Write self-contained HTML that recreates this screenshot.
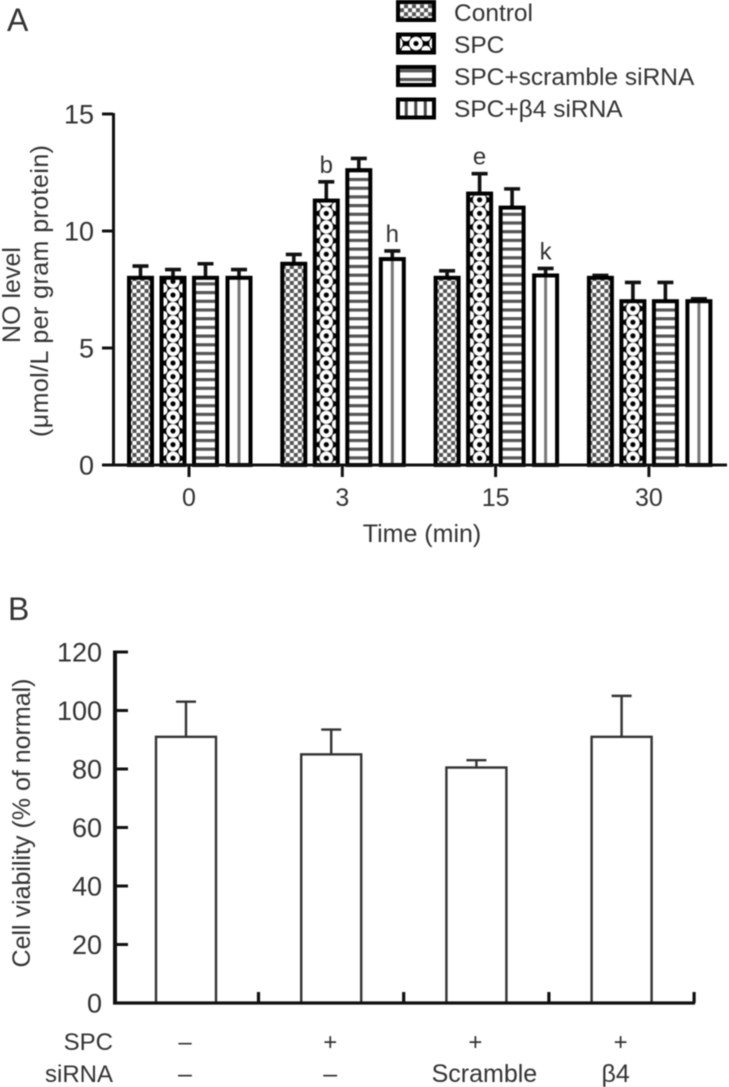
<!DOCTYPE html>
<html lang="en">
<head>
<meta charset="utf-8">
<title>NO level and cell viability charts</title>
<style>
html,body{margin:0;padding:0;background:#fff;}
#figure{display:block;width:729px;height:1087px;filter:blur(0.6px);}
text{font-family:"Liberation Sans",sans-serif;fill:#333;}
</style>
</head>
<body>
<svg id="figure" xmlns="http://www.w3.org/2000/svg" width="729" height="1087" viewBox="0 0 729 1087">
  <defs id="pattern-defs">
    <pattern id="pat-control" patternUnits="userSpaceOnUse" width="8" height="8">
      <rect width="8" height="8" fill="#fff"/>
      <rect x="0" y="0" width="4" height="4" fill="#555"/>
      <rect x="4" y="4" width="4" height="4" fill="#555"/>
    </pattern>
    <pattern id="pat-spc" patternUnits="userSpaceOnUse" width="20" height="13.6">
      <rect width="20" height="13.6" fill="#000"/>
      <circle cx="10" cy="6.8" r="6.7" fill="#fff"/>
      <circle cx="10" cy="6.8" r="2.6" fill="#000"/>
      <circle cx="0" cy="0" r="4.6" fill="#fff"/>
      <circle cx="20" cy="0" r="4.6" fill="#fff"/>
      <circle cx="0" cy="13.6" r="4.6" fill="#fff"/>
      <circle cx="20" cy="13.6" r="4.6" fill="#fff"/>
    </pattern>
    <pattern id="pat-scramble" patternUnits="userSpaceOnUse" width="10" height="8.7">
      <rect width="10" height="8.7" fill="#fff"/>
      <rect y="0" width="10" height="3.2" fill="#555"/>
    </pattern>
    <pattern id="pat-beta4" patternUnits="userSpaceOnUse" width="23" height="10">
      <rect width="23" height="10" fill="#fff"/>
      <rect x="10" width="3" height="10" fill="#777"/>
    </pattern>
    <pattern id="pat-beta4-legend" patternUnits="userSpaceOnUse" width="9.5" height="10">
      <rect width="9.5" height="10" fill="#fff"/>
      <rect x="3" width="3" height="10" fill="#444"/>
    </pattern>
  </defs>
  <g id="chart-a"></g>
  <g id="chart-b"></g>
</svg>
<script>
// Panel A data
var timeLabels = ['0', '3', '15', '30'];
var seriesNames = ['Control', 'SPC', 'SPC+scramble siRNA', 'SPC+\u03b24 siRNA'];
var seriesControl = [8.0, 8.6, 8.0, 8.0];
var seriesSpc = [8.0, 11.3, 11.6, 7.0];
var seriesScramble = [8.0, 12.6, 11.0, 7.0];
var seriesBeta4 = [8.0, 8.8, 8.1, 7.0];
var errorControl = [0.5, 0.4, 0.3, 0.1];
var errorSpc = [0.35, 0.8, 0.85, 0.8];
var errorScramble = [0.6, 0.5, 0.8, 0.8];
var errorBeta4 = [0.35, 0.35, 0.3, 0.1];
var significanceLabels = [['', '', '', ''], ['', 'b', '', 'h'], ['', 'e', '', 'k'], ['', '', '', '']];
var ticksA = [0, 5, 10, 15];

// Panel B data
var viabilityValues = [91, 85, 80.5, 91];
var viabilityErrors = [12, 8.5, 2.5, 14];
var spcRow = ['\u2013', '+', '+', '+'];
var sirnaRow = ['\u2013', '\u2013', 'Scramble', '\u03b24'];
var ticksB = [0, 20, 40, 60, 80, 100, 120];

var SVG_NS = 'http://www.w3.org/2000/svg';
function make(parent, tag, attrs, content) {
  var el = document.createElementNS(SVG_NS, tag);
  for (var k in attrs) { el.setAttribute(k, attrs[k]); }
  if (content !== undefined) { el.textContent = content; }
  parent.appendChild(el);
  return el;
}
function named(el, name, interactable) {
  
  
  return el;
}
var patternCount = 0;
function centeredPattern(baseId, cx, originY) {
  var base = document.getElementById(baseId);
  var copy = base.cloneNode(true);
  patternCount += 1;
  var id = baseId + '-' + patternCount;
  copy.setAttribute('id', id);
  copy.setAttribute('x', cx - parseFloat(base.getAttribute('width')) / 2);
  copy.setAttribute('y', originY);
  document.getElementById('pattern-defs').appendChild(copy);
  return 'url(#' + id + ')';
}

// ---------- Panel A ----------
var a = document.getElementById('chart-a');
var yA = function (v) { return 465 - v * 23.4; };
var xGroupA = function (i) { return 189 + i * 153.3; };
var xBarOffsets = function (s) { return -48.5 + s * 32.5 + (s === 3 ? 1 : 0); };
var patternIds = ['pat-control', 'pat-spc', 'pat-scramble', 'pat-beta4'];
var legendPatternIds = ['pat-control', 'pat-spc', 'pat-scramble', 'pat-beta4-legend'];
var valuesA = [seriesControl, seriesSpc, seriesScramble, seriesBeta4];
var errorsA = [errorControl, errorSpc, errorScramble, errorBeta4];
var barSlug = ['control', 'spc', 'scramble', 'beta4'];

named(make(a, 'text', {x: 7, y: 31, 'font-size': 32}, 'A'), 'panel-a-label', 'false');

valuesA.forEach(function (series, s) {
  series.forEach(function (v, g) {
    var cx = xGroupA(g) + xBarOffsets(s);
    var top = yA(v + errorsA[s][g]);
    var eb = make(a, 'path', {
      d: 'M' + cx + ' ' + yA(v) + 'V' + top + 'M' + (cx - 8) + ' ' + top + 'H' + (cx + 8),
      stroke: '#111', 'stroke-width': 3.6, fill: 'none'
    });
    named(eb, 'error-bar-' + barSlug[s] + '-' + timeLabels[g], 'false');
    var bar = make(a, 'rect', {
      x: cx - 11.5, y: yA(v), width: 23, height: 465 - yA(v),
      fill: centeredPattern(patternIds[s], cx, 465), stroke: '#000', 'stroke-width': 4
    });
    named(bar, 'bar-' + barSlug[s] + '-' + timeLabels[g], 'true');
    var sig = significanceLabels[g][s];
    if (sig) {
      var lab = make(a, 'text', {x: cx, y: top - 9, 'text-anchor': 'middle', 'font-size': 24}, sig);
      named(lab, 'significance-' + sig, 'false');
    }
  });
});

named(make(a, 'path', {d: 'M113.5 113V465', stroke: '#111', 'stroke-width': 3, fill: 'none'}), 'y-axis-a', 'false');
named(make(a, 'path', {d: 'M102 465H727', stroke: '#111', 'stroke-width': 3, fill: 'none'}), 'x-axis-a', 'false');

ticksA.forEach(function (t) {
  named(make(a, 'path', {d: 'M102 ' + yA(t) + 'H113', stroke: '#111', 'stroke-width': 3}), 'y-tick-' + t, 'false');
  named(make(a, 'text', {x: 94, y: yA(t) + 9.5, 'text-anchor': 'end', 'font-size': 27}, t), 'y-tick-label-' + t, 'false');
});
timeLabels.forEach(function (lab, i) {
  var x = xGroupA(i);
  named(make(a, 'path', {d: 'M' + x + ' 465V477', stroke: '#111', 'stroke-width': 3}), 'x-tick-' + lab, 'false');
  named(make(a, 'text', {x: x, y: 506, 'text-anchor': 'middle', 'font-size': 25}, lab), 'x-tick-label-' + lab, 'false');
});
named(make(a, 'text', {x: 422, y: 542, 'text-anchor': 'middle', 'font-size': 25}, 'Time (min)'), 'x-axis-title', 'false');
named(make(a, 'text', {transform: 'translate(20 295) rotate(-90)', 'text-anchor': 'middle', 'font-size': 25}, 'NO level'), 'y-axis-title-line-1', 'false');
named(make(a, 'text', {transform: 'translate(48 291) rotate(-90)', 'text-anchor': 'middle', 'font-size': 25, textLength: 292}, '(\u03bcmol/L per gram protein)'), 'y-axis-title-line-2', 'false');

seriesNames.forEach(function (name, s) {
  var y = 11 + s * 32.5;
  var legendFill = centeredPattern(legendPatternIds[s], 416, y - 6.8);
  var sw = make(a, 'rect', {x: 398, y: y - 9, width: 36, height: 18, fill: legendFill, stroke: '#000', 'stroke-width': 4});
  named(sw, 'legend-swatch-' + barSlug[s], 'true');
  var tx = make(a, 'text', {x: 454, y: 21 + s * 32, 'font-size': 24.5}, name);
  named(tx, 'legend-label-' + barSlug[s], 'true');
});

// ---------- Panel B ----------
var b = document.getElementById('chart-b');
var yB = function (v) { return 1003 - v * 2.925; };
var xCenterB = function (i) { return 186 + i * 145.2; };
var xTickB = function (i) { return 258.5 + i * 145.2; };

named(make(b, 'text', {x: 8, y: 620, 'font-size': 32}, 'B'), 'panel-b-label', 'false');

viabilityValues.forEach(function (v, i) {
  var cx = xCenterB(i);
  var top = yB(v + viabilityErrors[i]);
  var eb = make(b, 'path', {
    d: 'M' + cx + ' ' + yB(v) + 'V' + top + 'M' + (cx - 10) + ' ' + top + 'H' + (cx + 10),
    stroke: '#333', 'stroke-width': 2.4, fill: 'none'
  });
  named(eb, 'viability-error-bar-' + (i + 1), 'false');
  var bar = make(b, 'rect', {x: cx - 30, y: yB(v), width: 60, height: 1003 - yB(v), fill: '#fff', stroke: '#333', 'stroke-width': 2.4});
  named(bar, 'viability-bar-' + (i + 1), 'true');
  named(make(b, 'path', {d: 'M' + xTickB(i) + ' 1003V992', stroke: '#111', 'stroke-width': 3.2}), 'viability-x-tick-' + (i + 1), 'false');
  named(make(b, 'text', {x: cx - 1, y: 1050, 'text-anchor': 'middle', 'font-size': 24}, spcRow[i]), 'spc-value-' + (i + 1), 'false');
  named(make(b, 'text', {x: i === 2 ? cx + 8 : (i === 3 ? cx - 6 : cx - 1), y: 1082, 'text-anchor': 'middle', 'font-size': 25}, sirnaRow[i]), 'sirna-value-' + (i + 1), 'false');
});

named(make(b, 'path', {d: 'M115 650.5V1003', stroke: '#111', 'stroke-width': 4, fill: 'none'}), 'y-axis-b', 'false');
named(make(b, 'path', {d: 'M113 1003H695', stroke: '#111', 'stroke-width': 3.2, fill: 'none'}), 'x-axis-b', 'false');
ticksB.forEach(function (t) {
  if (t > 0) {
    named(make(b, 'path', {d: 'M115 ' + yB(t) + 'H128', stroke: '#111', 'stroke-width': 3}), 'viability-y-tick-' + t, 'false');
  }
  named(make(b, 'text', {x: 102, y: yB(t) + 9.5, 'text-anchor': 'end', 'font-size': 27}, t), 'viability-y-tick-label-' + t, 'false');
});
named(make(b, 'text', {transform: 'translate(30 823) rotate(-90)', 'text-anchor': 'middle', 'font-size': 25}, 'Cell viability (% of normal)'), 'viability-y-axis-title', 'false');
named(make(b, 'text', {x: 113, y: 1050, 'text-anchor': 'end', 'font-size': 24}, 'SPC'), 'spc-row-label', 'false');
named(make(b, 'text', {x: 113, y: 1082, 'text-anchor': 'end', 'font-size': 24}, 'siRNA'), 'sirna-row-label', 'false');
</script>
</body>
</html>
